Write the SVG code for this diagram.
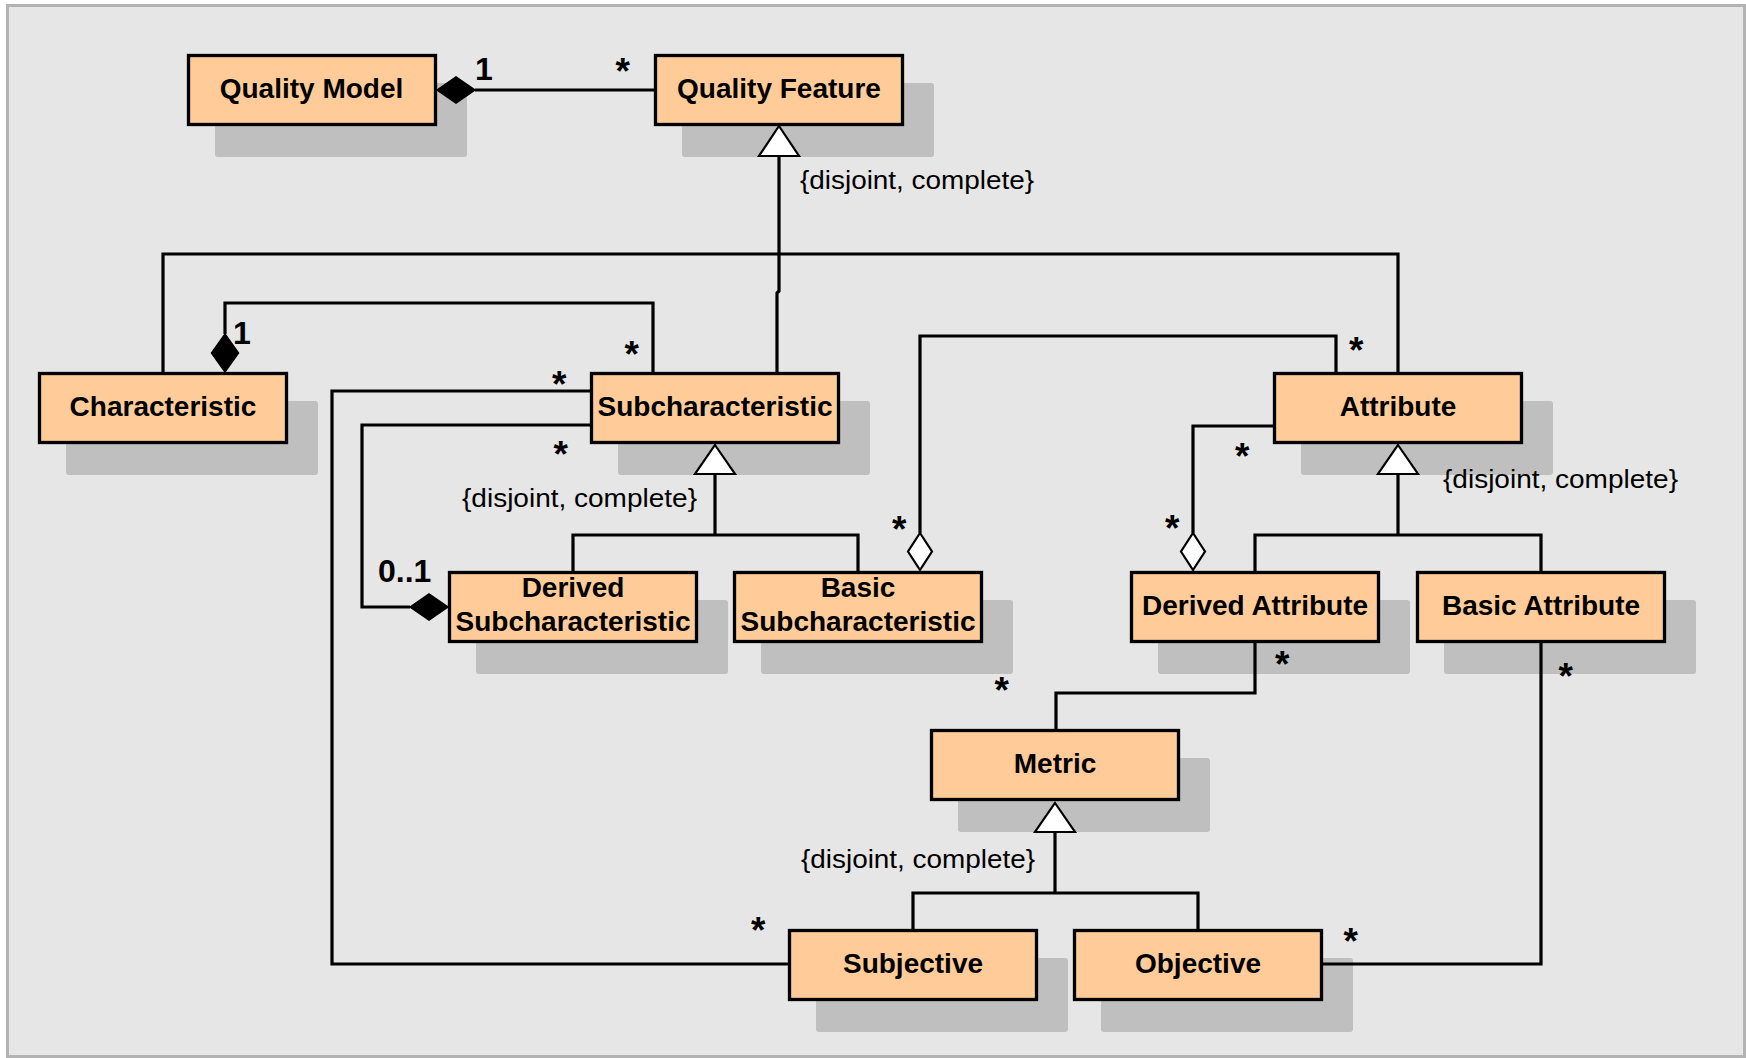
<svg xmlns="http://www.w3.org/2000/svg" width="1746" height="1058" viewBox="0 0 1746 1058">
<style>
.bg{fill:#e6e6e6;stroke:#b3b3b3;stroke-width:3}
.sh{fill:#bfbfbf}
.box{fill:#ffcc99;stroke:#000;stroke-width:3.3}
.t{font-family:"Liberation Sans",Arial,sans-serif;font-weight:bold;font-size:28px;text-anchor:middle;fill:#000}
.m{font-family:"Liberation Sans",Arial,sans-serif;font-weight:bold;font-size:32px;fill:#000}
.s{font-family:"Liberation Sans",Arial,sans-serif;font-weight:bold;font-size:37px;fill:#000}
.c{font-family:"Liberation Sans",Arial,sans-serif;font-size:25px;fill:#000}
.ln{fill:none;stroke:#000;stroke-width:3.2;stroke-linejoin:miter}
.gen{fill:#fff;stroke:#000;stroke-width:2.2}
.fd{fill:#000;stroke:#000;stroke-width:1.5}
.od{fill:#fff;stroke:#000;stroke-width:2.2}
</style>
<rect width="1746" height="1058" fill="#fff"/>
<rect class="bg" x="7.5" y="5.5" width="1737" height="1051"/>
<g id="shadows">
<rect class="sh" x="215" y="83" width="252" height="74" rx="3"/>
<rect class="sh" x="682" y="83" width="252" height="74" rx="3"/>
<rect class="sh" x="66" y="401" width="252" height="74" rx="3"/>
<rect class="sh" x="618" y="401" width="252" height="74" rx="3"/>
<rect class="sh" x="1301" y="401" width="252" height="74" rx="3"/>
<rect class="sh" x="476" y="600" width="252" height="74" rx="3"/>
<rect class="sh" x="761" y="600" width="252" height="74" rx="3"/>
<rect class="sh" x="1158" y="600" width="252" height="74" rx="3"/>
<rect class="sh" x="1444" y="600" width="252" height="74" rx="3"/>
<rect class="sh" x="958" y="758" width="252" height="74" rx="3"/>
<rect class="sh" x="816" y="958" width="252" height="74" rx="3"/>
<rect class="sh" x="1101" y="958" width="252" height="74" rx="3"/>
</g>
<g id="connectors">
<path class="ln" d="M475,90 H654"/>
<path class="ln" d="M779,156 V291 L777,293 V372"/>
<path class="ln" d="M163,372 V254 H1398 V372"/>
<path class="ln" d="M225,334 V303 H653 V372"/>
<path class="ln" d="M590,391 H332 V964 H788"/>
<path class="ln" d="M590,425 H362 V607 H410"/>
<path class="ln" d="M715,474 V535"/>
<path class="ln" d="M573,571 V535 H858 V571"/>
<path class="ln" d="M920,533 V336 H1336 V372"/>
<path class="ln" d="M1193,533 V426 H1273"/>
<path class="ln" d="M1398,474 V535"/>
<path class="ln" d="M1255,571 V535 H1541 V571"/>
<path class="ln" d="M1255,643 V693 H1056 V729"/>
<path class="ln" d="M1055,832 V893"/>
<path class="ln" d="M913,929 V893 H1198 V929"/>
<path class="ln" d="M1323,964 H1541 V643"/>
<polygon class="fd" points="437,90 456,77 475,90 456,103"/>
<polygon class="fd" points="225,334 238.5,353 225,372 211.5,353"/>
<polygon class="fd" points="410,607 429,594 448,607 429,620"/>
<polygon class="od" points="920,533 932,551.5 920,570 908,551.5"/>
<polygon class="od" points="1193,533 1205,551.5 1193,570 1181,551.5"/>
<polygon class="gen" points="779,126 799,156 759,156"/>
<polygon class="gen" points="715,445 735,474 695,474"/>
<polygon class="gen" points="1398,445 1418,474 1378,474"/>
<polygon class="gen" points="1055,803 1075,832 1035,832"/>
<text class="m" x="475" y="80">1</text>
<text class="s" x="615.5" y="84">*</text>
<text class="m" x="233" y="344">1</text>
<text class="s" x="624.5" y="367">*</text>
<text class="s" x="552" y="396.5">*</text>
<text class="s" x="553.5" y="467">*</text>
<text class="m" x="378" y="582">0..1</text>
<text class="s" x="892" y="541.5">*</text>
<text class="s" x="1349" y="363">*</text>
<text class="s" x="1235" y="468.5">*</text>
<text class="s" x="1165" y="540.5">*</text>
<text class="s" x="1275" y="677">*</text>
<text class="s" x="994.5" y="703">*</text>
<text class="s" x="1558.5" y="688.5">*</text>
<text class="s" x="1343.5" y="953.5">*</text>
<text class="s" x="751" y="942.5">*</text>
<text class="c" x="800" y="189" textLength="234" lengthAdjust="spacingAndGlyphs">{disjoint, complete}</text>
<text class="c" x="462" y="507" textLength="235" lengthAdjust="spacingAndGlyphs">{disjoint, complete}</text>
<text class="c" x="1443" y="488" textLength="235" lengthAdjust="spacingAndGlyphs">{disjoint, complete}</text>
<text class="c" x="801" y="868" textLength="234" lengthAdjust="spacingAndGlyphs">{disjoint, complete}</text>
</g>
<g id="quality-model"><rect class="box" x="188.5" y="55.5" width="247" height="69"/><text class="t" x="311.5" y="98">Quality Model</text></g>
<g id="quality-feature"><rect class="box" x="655.5" y="55.5" width="247" height="69"/><text class="t" x="779" y="98">Quality Feature</text></g>
<g id="characteristic"><rect class="box" x="39.5" y="373.5" width="247" height="69"/><text class="t" x="163" y="416">Characteristic</text></g>
<g id="subcharacteristic"><rect class="box" x="591.5" y="373.5" width="247" height="69"/><text class="t" x="715" y="416">Subcharacteristic</text></g>
<g id="attribute"><rect class="box" x="1274.5" y="373.5" width="247" height="69"/><text class="t" x="1398" y="416">Attribute</text></g>
<g id="derived-subcharacteristic"><rect class="box" x="449.5" y="572.5" width="247" height="69"/><text class="t" x="573" y="597">Derived</text><text class="t" x="573" y="631">Subcharacteristic</text></g>
<g id="basic-subcharacteristic"><rect class="box" x="734.5" y="572.5" width="247" height="69"/><text class="t" x="858" y="597">Basic</text><text class="t" x="858" y="631">Subcharacteristic</text></g>
<g id="derived-attribute"><rect class="box" x="1131.5" y="572.5" width="247" height="69"/><text class="t" x="1255" y="615">Derived Attribute</text></g>
<g id="basic-attribute"><rect class="box" x="1417.5" y="572.5" width="247" height="69"/><text class="t" x="1541" y="615">Basic Attribute</text></g>
<g id="metric"><rect class="box" x="931.5" y="730.5" width="247" height="69"/><text class="t" x="1055" y="773">Metric</text></g>
<g id="subjective"><rect class="box" x="789.5" y="930.5" width="247" height="69"/><text class="t" x="913" y="973">Subjective</text></g>
<g id="objective"><rect class="box" x="1074.5" y="930.5" width="247" height="69"/><text class="t" x="1198" y="973">Objective</text></g>
</svg>
